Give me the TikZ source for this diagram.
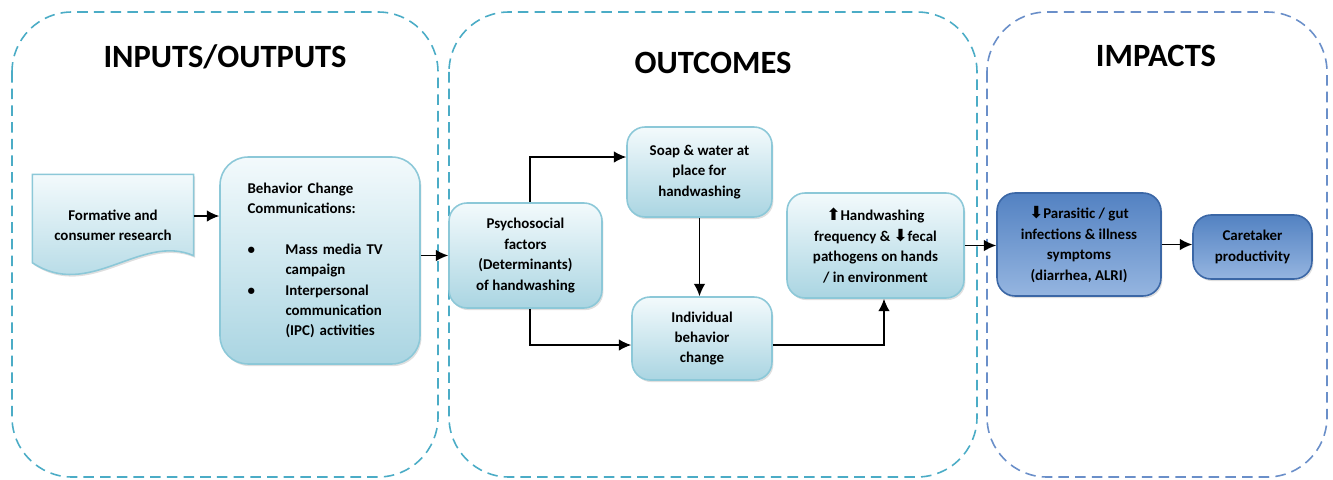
\documentclass[tikz,border=0pt]{standalone}
\usepackage{fontspec}
\setmainfont{Carlito}
\newfontfamily\arrowfont{DejaVu Sans}
\usepackage{tikz}
\usepackage{xcolor}
\usetikzlibrary{arrows.meta,calc,shadows}

\definecolor{frameteal}{HTML}{4BACC6}
\definecolor{frameblue}{HTML}{6A8FC9}
\definecolor{lighttop}{HTML}{F3FAFC}
\definecolor{lightbot}{HTML}{AAD5E2}
\definecolor{lightline}{HTML}{8CC8D8}
\definecolor{darktop}{HTML}{5382C2}
\definecolor{darkbot}{HTML}{95B5E0}
\definecolor{darkline}{HTML}{3B67A6}

\tikzstyle{frame} = [dash pattern=on 6pt off 3.5pt, line width=0.9pt, rounded corners=1.2cm, fill=none]
\tikzstyle{heading} = [anchor=base, font=\bfseries\fontsize{18.5}{22}\selectfont]
\tikzstyle{boxtext} = [align=center, font=\bfseries\fontsize{8.5}{11.6}\selectfont]
\tikzstyle{softbox} = [boxtext, rectangle, draw=lightline, line width=0.9pt, top color=lighttop, bottom color=lightbot,
  rounded corners=0.36cm,
  drop shadow={shadow xshift=0.8pt, shadow yshift=-1.2pt, opacity=0.25, fill=gray}]
\tikzstyle{deepbox} = [softbox, draw=darkline, top color=darktop, bottom color=darkbot]
\newcommand{\upar}{{\arrowfont\bfseries\fontsize{9.5}{8}\selectfont ⬆}}
\newcommand{\downar}{{\arrowfont\bfseries\fontsize{9.5}{8}\selectfont ⬇}}

\begin{document}
\begin{tikzpicture}[x=0.02cm,y=-0.02cm,>={Latex[length=7pt,width=6.5pt]},thick]
  \useasboundingbox (0,0) rectangle (1333,480);

  % the three stages
  \draw[frame, frameteal] (12,12) rectangle (438,477);
  \draw[frame, frameteal] (449,12) rectangle (977,477);
  \draw[frame, frameblue] (987,12) rectangle (1327,477);
  \node[heading] (t_in) at (225,68) {INPUTS/OUTPUTS};
  \node[heading] (t_out) at (713,73) {OUTCOMES};
  \node[heading] (t_imp) at (1156,66) {IMPACTS};

  % inputs / outputs
  \node[boxtext, minimum width=3.2cm, minimum height=2cm] (research) at (113,225) {};
  \path[draw=lightline, line width=0.9pt, top color=lighttop, bottom color=lightbot,
    drop shadow={shadow xshift=0.8pt, shadow yshift=-1.2pt, opacity=0.25, fill=gray}]
    (research.north west) -- (research.north east) -- ($(research.south east)+(0,-20)$)
    .. controls ($(research.south east)+(-53,-43)$) and ($(research.south west)+(57,25)$) ..
    ($(research.south west)+(0,-13)$) -- cycle;
  \node[boxtext] (research_txt) at (research) {Formative and\\consumer research};
  \node[softbox, minimum width=4cm, minimum height=4.14cm, text width=2.9cm, align=left,
    rounded corners=0.56cm] (bcc) at (320,260.5)
    {Behavior Change\\Communications:\\[11.6pt]
     \makebox[0.76cm][l]{\textbullet}Mass media TV\\
     \hspace*{0.76cm}campaign\\
     \makebox[0.76cm][l]{\textbullet}Interpersonal\\
     \hspace*{0.76cm}communication\\
     \hspace*{0.76cm}(IPC) activities};

  % outcomes
  \node[softbox, minimum width=3.06cm, minimum height=2.1cm] (psych) at (525.5,255.5)
    {Psychosocial\\factors\\(Determinants)\\of handwashing};
  \node[softbox, minimum width=2.9cm, minimum height=1.8cm] (soap) at (699.5,172)
    {Soap \& water at\\place for\\handwashing};
  \node[softbox, minimum width=2.8cm, minimum height=1.66cm] (indiv) at (702,338.5)
    {Individual\\behavior\\change};
  \node[softbox, minimum width=3.54cm, minimum height=2.1cm] (hand) at (875.5,245.5)
    {\upar Handwashing\\frequency \& \downar fecal\\pathogens on hands\\/ in environment};

  % impacts
  \node[deepbox, minimum width=3.28cm, minimum height=2.06cm] (para) at (1079,244.5)
    {\downar Parasitic / gut\\infections \& illness\\symptoms\\(diarrhea, ALRI)};
  \node[deepbox, minimum width=2.38cm, minimum height=1.28cm] (care) at (1252.5,247)
    {Caretaker\\productivity};

  \draw[->] ([yshift=0.18cm]research.east) -- ([yshift=0.18cm]research.east -| bcc.west);
  \draw[->] (bcc.east |- psych.west) -- (psych.west);
  \draw[->] ([xshift=0.09cm]psych.north) |- ([yshift=0.3cm]soap.west);
  \draw[->] ([xshift=0.09cm]psych.south) |- ([yshift=-0.13cm]indiv.west);
  \draw[->] (soap.south) -- (soap.south |- indiv.north);
  \draw[->] ([yshift=-0.13cm]indiv.east) -| ([xshift=0.17cm]hand.south);
  \draw[->] (hand.east) -- (hand.east -| para.west);
  \draw[->] (para.east) -- (para.east -| care.west);
\end{tikzpicture}
\end{document}
